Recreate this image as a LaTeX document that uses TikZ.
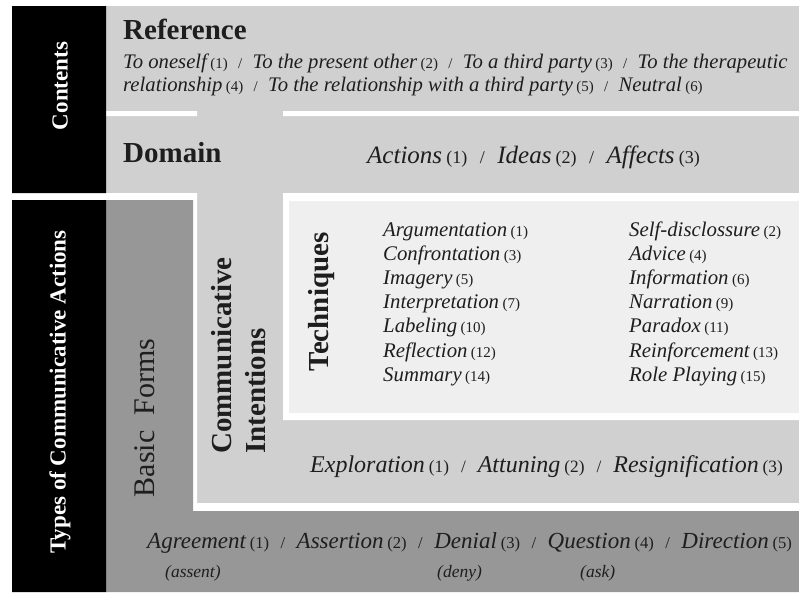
\documentclass[tikz,border=0pt]{standalone}
\usepackage{fontspec}
\setmainfont{Liberation Serif}
\usepackage{tikz}
\definecolor{lgray}{HTML}{D0D0D0}
\definecolor{dgray}{HTML}{979797}
\definecolor{pale}{HTML}{EFEFEF}
\definecolor{ink}{HTML}{1E1E1E}
\newcommand{\nr}[1]{\,{\upshape\fontsize{\nrsize}{\nrsize}\selectfont(#1)}}
\newcommand{\sepr}{\ \ {\upshape\fontsize{\nrsize}{\nrsize}\selectfont/}\ \ }
\tikzset{
  head/.style={font=\bfseries\fontsize{29}{34}\selectfont,text=ink,inner sep=0pt},
  side/.style={font=\bfseries\fontsize{23}{23}\selectfont,text=white,rotate=90,inner sep=0pt},
  items/.style={anchor=base west,inner sep=0pt,text=ink,
    font={\itshape\fontsize{#1}{#1}\selectfont\pgfmathsetmacro\nrsize{0.72*#1}}}
}
\begin{document}
\begin{tikzpicture}[x=1pt,y=-1pt]
\useasboundingbox (0,0) rectangle (799,592);
% panels
\fill[lgray] (106,6) rectangle (799,503);
\fill[white] (106,111) rectangle (197,116) (283,111) rectangle (799,116);
\fill[white] (106,193) rectangle (197,511) (197,503) rectangle (799,511)
  (283,193) rectangle (799,420);
\fill[pale] (289,201) rectangle (799,413);
\fill[dgray] (106,200) rectangle (193,592) (106,511) rectangle (799,592);
\fill[black] (12,6) rectangle (106,193) (12,200) rectangle (106,592);
% side labels
\node[side] (contents) at (60,86) {Contents};
\node[side] (types) at (60,392) {Types of Communicative Actions};
% reference
\node[head,anchor=base west] (ref) at (123,39) {Reference};
\node[items=20.7] (ref1) at (123,68) {To oneself\nr{1}\sepr To the present other\nr{2}\sepr To a third party\nr{3}\sepr To the therapeutic};
\node[items=20.7] (ref2) at (123,91) {relationship\nr{4}\sepr To the relationship with a third party\nr{5}\sepr Neutral\nr{6}};
% domain
\node[head,anchor=base west] (dom) at (123,162) {Domain};
\node[items=25] (domitems) at (367,163) {Actions\nr{1}\sepr Ideas\nr{2}\sepr Affects\nr{3}};
% techniques
\node[head,rotate=90] (tech) at (322,302) {Techniques};
\foreach \a/\na/\b/\nb [count=\i from 0] in {Argumentation/1/Self-disclossure/2,
  Confrontation/3/Advice/4, Imagery/5/Information/6, Interpretation/7/Narration/9,
  Labeling/10/Paradox/11, Reflection/12/Reinforcement/13, Summary/14/Role Playing/15}{
  \node[items=20.8] (tl\i) at (383,{236+24.2*\i}) {\a\nr{\na}};
  \node[items=20.8] (tr\i) at (629,{236+24.2*\i}) {\b\nr{\nb}};
}
% communicative intentions
\node[head,rotate=90,anchor=west,align=left] (intent) at (239,454) {Communicative\\Intentions};
\node[items=24] (intitems) at (310,472) {Exploration\nr{1}\sepr Attuning\nr{2}\sepr Resignification\nr{3}};
% basic forms
\node[font=\fontsize{30}{30}\selectfont,text=ink,rotate=90,inner sep=0pt] (basic) at (145,418) {Basic\ \ Forms};
\node[items=23] (formitems) at (147,548) {Agreement\nr{1}\sepr Assertion\nr{2}\sepr Denial\nr{3}\sepr Question\nr{4}\sepr Direction\nr{5}};
\node[items=17.5] (assent) at (165,577) {(assent)};
\node[items=17.5] (deny) at (437,577) {(deny)};
\node[items=17.5] (ask) at (580,577) {(ask)};
\end{tikzpicture}
\end{document}
